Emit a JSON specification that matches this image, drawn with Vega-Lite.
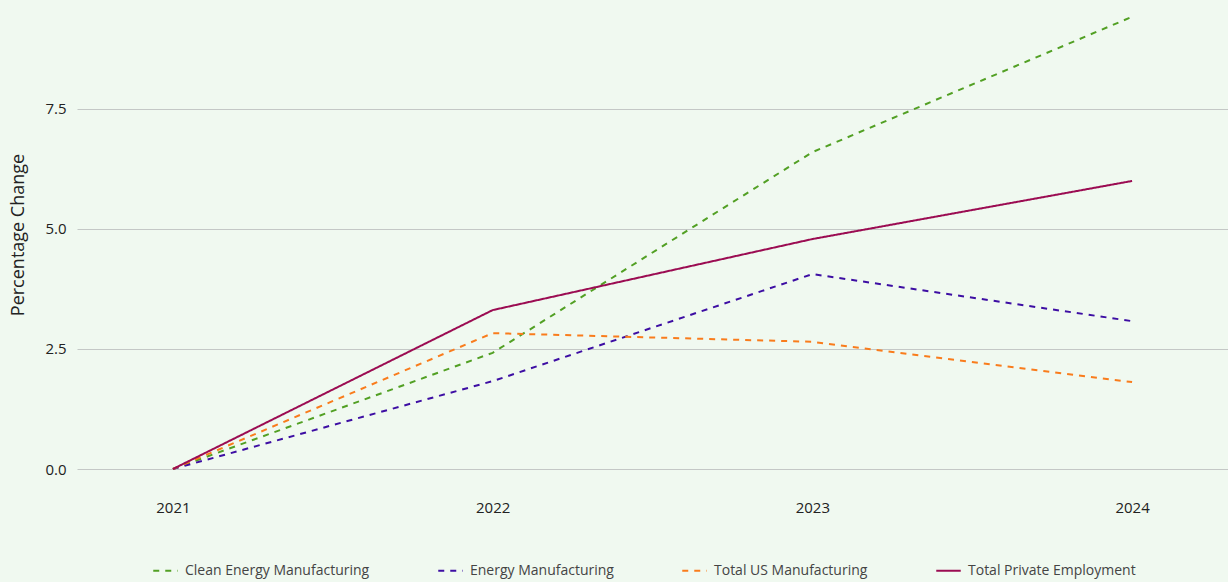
{
  "$schema": "https://vega.github.io/schema/vega-lite/v6.json",
  "autosize": "none",
  "width": 1151,
  "height": 469,
  "padding": {"left": 77, "top": 0, "right": 0, "bottom": 113},
  "background": "#f0f9f0",
  "config": {
    "view": {"stroke": null},
    "font": "Open Sans",
    "axis": {"labelFont": "Open Sans", "titleFont": "Open Sans"},
    "legend": {"labelFont": "Open Sans"}
  },
  "data": {
    "values": [
      {"year": "2021", "series": "Clean Energy Manufacturing", "value": 0},
      {"year": "2022", "series": "Clean Energy Manufacturing", "value": 2.42},
      {"year": "2023", "series": "Clean Energy Manufacturing", "value": 6.6},
      {"year": "2024", "series": "Clean Energy Manufacturing", "value": 9.42},
      {"year": "2021", "series": "Energy Manufacturing", "value": 0},
      {"year": "2022", "series": "Energy Manufacturing", "value": 1.83},
      {"year": "2023", "series": "Energy Manufacturing", "value": 4.06},
      {"year": "2024", "series": "Energy Manufacturing", "value": 3.08},
      {"year": "2021", "series": "Total US Manufacturing", "value": 0},
      {"year": "2022", "series": "Total US Manufacturing", "value": 2.83},
      {"year": "2023", "series": "Total US Manufacturing", "value": 2.65},
      {"year": "2024", "series": "Total US Manufacturing", "value": 1.81},
      {"year": "2021", "series": "Total Private Employment", "value": 0},
      {"year": "2022", "series": "Total Private Employment", "value": 3.31},
      {"year": "2023", "series": "Total Private Employment", "value": 4.79},
      {"year": "2024", "series": "Total Private Employment", "value": 6.0}
    ]
  },
  "mark": {"type": "line", "strokeWidth": 2},
  "encoding": {
    "x": {
      "field": "year", "type": "ordinal",
      "scale": {"type": "point", "padding": 0.3},
      "axis": {"title": null, "labelAngle": 0, "domain": false, "ticks": false, "grid": false,
               "labelFontSize": 15, "labelColor": "#222", "labelPadding": 31}
    },
    "y": {
      "field": "value", "type": "quantitative",
      "scale": {"domain": [0, 9.77], "nice": false, "zero": true},
      "axis": {"title": "Percentage Change", "titleFontSize": 18, "titleFontWeight": "normal", "titleColor": "#222",
               "titlePadding": 17, "values": [0, 2.5, 5, 7.5], "format": ".1f",
               "domain": false, "ticks": false, "grid": true, "gridColor": "#c4c8c6", "gridWidth": 1,
               "labelFontSize": 15, "labelColor": "#222", "labelPadding": 11}
    },
    "color": {
      "field": "series", "type": "nominal",
      "scale": {
        "domain": ["Clean Energy Manufacturing", "Energy Manufacturing", "Total US Manufacturing", "Total Private Employment"],
        "range": ["#52a024", "#3d0ea3", "#f97c1c", "#9b0c52"]
      },
      "legend": {
        "title": null, "orient": "none", "legendX": 75, "legendY": 557, "direction": "horizontal",
        "symbolType": "stroke", "symbolSize": 600, "symbolStrokeWidth": 2, "labelLimit": 0,
        "labelFontSize": 14, "labelColor": "#444", "columnPadding": 64, "labelOffset": 6
      }
    },
    "strokeDash": {
      "field": "series", "type": "nominal",
      "scale": {
        "domain": ["Clean Energy Manufacturing", "Energy Manufacturing", "Total US Manufacturing", "Total Private Employment"],
        "range": [[6, 6], [6, 6], [6, 6], [1, 0]]
      }
    }
  }
}
